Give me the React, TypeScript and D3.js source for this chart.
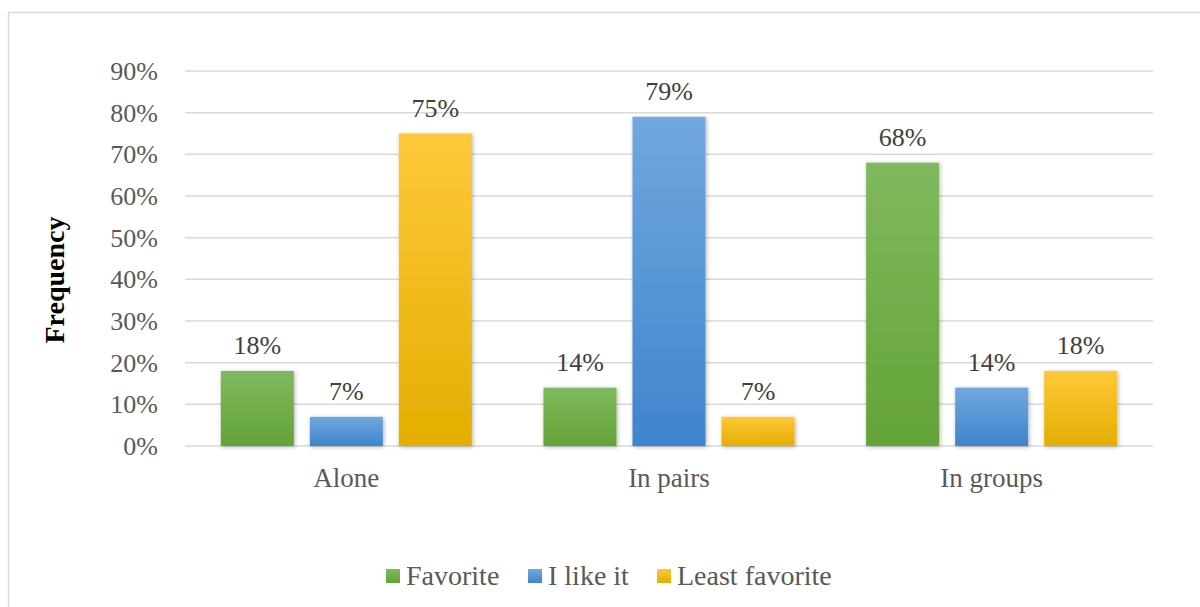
import React, { useEffect, useRef } from "react";
import * as d3 from "d3";

const categories = ["Alone", "In pairs", "In groups"];
const seriesNames = ["Favorite", "I like it", "Least favorite"];
const favorite = [18, 14, 68];
const likeIt = [7, 79, 14];
const leastFavorite = [75, 7, 18];
const yTicks = [0, 10, 20, 30, 40, 50, 60, 70, 80, 90];

const seriesValues = [favorite, likeIt, leastFavorite];
const gradStops = [
  ["#80b95e", "#63a337"],
  ["#71a8de", "#3f84cd"],
  ["#ffc83a", "#e3ae00"],
];

const W = 1200;
const H = 607;
const plot = { left: 185, right: 1153, top: 71, bottom: 446 };
const FONT = "'Liberation Serif', 'Times New Roman', serif";

export default function App() {
  const ref = useRef<SVGSVGElement | null>(null);

  useEffect(() => {
    const svg = d3.select(ref.current);
    svg.selectAll("*").remove();

    const defs = svg.append("defs");
    gradStops.forEach((stops, i) => {
      const g = defs
        .append("linearGradient")
        .attr("id", `grad${i}`)
        .attr("x1", 0)
        .attr("y1", 0)
        .attr("x2", 0)
        .attr("y2", 1);
      g.append("stop").attr("offset", "0%").attr("stop-color", stops[0]);
      g.append("stop").attr("offset", "100%").attr("stop-color", stops[1]);
    });
    const f = defs
      .append("filter")
      .attr("id", "shadow")
      .attr("x", "-20%")
      .attr("y", "-20%")
      .attr("width", "140%")
      .attr("height", "140%");
    f.append("feDropShadow")
      .attr("dx", 1)
      .attr("dy", 1)
      .attr("stdDeviation", 2)
      .attr("flood-color", "#000")
      .attr("flood-opacity", 0.3);

    // chart frame
    svg
      .append("rect")
      .attr("x", 8.5)
      .attr("y", 12.5)
      .attr("width", W)
      .attr("height", H)
      .attr("fill", "#fff")
      .attr("stroke", "#d9d9d9")
      .attr("stroke-width", 1.5);

    const y = d3.scaleLinear().domain([0, 90]).range([plot.bottom, plot.top]);
    const x0 = d3
      .scaleBand<string>()
      .domain(categories)
      .range([plot.left, plot.right])
      .paddingInner(0)
      .paddingOuter(0);
    const innerPad = 35.8;
    const x1 = d3
      .scaleBand<string>()
      .domain(seriesNames)
      .range([innerPad, x0.bandwidth() - innerPad])
      .paddingInner(16 / 89)
      .paddingOuter(0);

    // gridlines
    svg
      .append("g")
      .selectAll("line")
      .data(yTicks)
      .join("line")
      .attr("x1", plot.left)
      .attr("x2", plot.right)
      .attr("y1", (d) => y(d))
      .attr("y2", (d) => y(d))
      .attr("stroke", "#d9d9d9")
      .attr("stroke-width", 1.5);

    // y tick labels
    svg
      .append("g")
      .selectAll("text")
      .data(yTicks)
      .join("text")
      .attr("x", 158)
      .attr("y", (d) => y(d))
      .attr("dy", "0.35em")
      .attr("text-anchor", "end")
      .attr("font-family", FONT)
      .attr("font-size", 26)
      .attr("fill", "#595959")
      .text((d) => `${d}%`);

    // bars
    const groups = svg
      .append("g")
      .selectAll("g")
      .data(categories)
      .join("g")
      .attr("transform", (c) => `translate(${x0(c)},0)`);

    const rows = (c: string) =>
      seriesNames.map((s, si) => ({ s, si, v: seriesValues[si][categories.indexOf(c)] }));

    groups
      .selectAll("rect")
      .data(rows)
      .join("rect")
      .attr("x", (d) => x1(d.s)!)
      .attr("width", x1.bandwidth())
      .attr("y", (d) => y(d.v))
      .attr("height", (d) => plot.bottom - y(d.v))
      .attr("fill", (d) => `url(#grad${d.si})`)
      .attr("filter", "url(#shadow)");

    groups
      .selectAll("text")
      .data(rows)
      .join("text")
      .attr("x", (d) => x1(d.s)! + x1.bandwidth() / 2)
      .attr("y", (d) => y(d.v) - 17)
      .attr("text-anchor", "middle")
      .attr("font-family", FONT)
      .attr("font-size", 26)
      .attr("fill", "#404040")
      .text((d) => `${d.v}%`);

    // category labels
    svg
      .append("g")
      .selectAll("text")
      .data(categories)
      .join("text")
      .attr("x", (c) => x0(c)! + x0.bandwidth() / 2)
      .attr("y", 487)
      .attr("text-anchor", "middle")
      .attr("font-family", FONT)
      .attr("font-size", 27)
      .attr("fill", "#595959")
      .text((c) => c);

    // y axis title
    svg
      .append("text")
      .attr("transform", `translate(64,280) rotate(-90)`)
      .attr("text-anchor", "middle")
      .attr("font-family", FONT)
      .attr("font-size", 28)
      .attr("font-weight", "bold")
      .attr("fill", "#000")
      .text("Frequency");

    // legend
    const legendX = [386, 528, 657];
    const legend = svg
      .append("g")
      .selectAll("g")
      .data(seriesNames)
      .join("g")
      .attr("transform", (_, i) => `translate(${legendX[i]},569)`);
    legend
      .append("rect")
      .attr("width", 14)
      .attr("height", 14)
      .attr("fill", (_, i) => `url(#grad${i})`);
    legend
      .append("text")
      .attr("x", 20)
      .attr("y", 16)
      .attr("font-family", FONT)
      .attr("font-size", 28)
      .attr("fill", "#595959")
      .text((d) => d);
  }, []);

  return (
    <svg
      ref={ref}
      width={W}
      height={H}
      style={{ position: "fixed", left: 0, top: 0, display: "block" }}
    />
  );
}
